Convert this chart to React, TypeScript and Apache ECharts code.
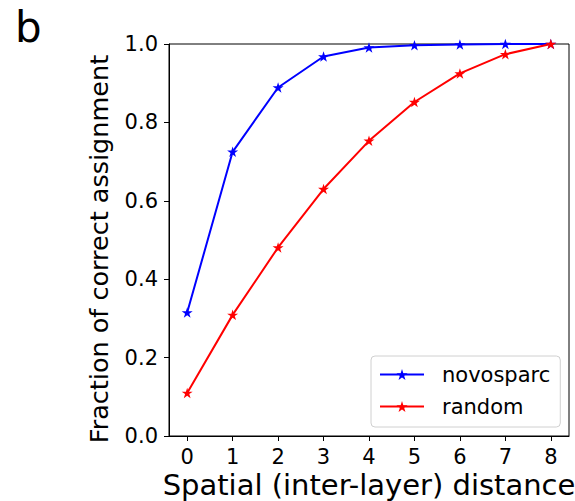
import React, { useEffect, useRef } from "react";
import * as echarts from "echarts";

const distances = [0, 1, 2, 3, 4, 5, 6, 7, 8];
const novosparcValues = [0.315, 0.725, 0.889, 0.968, 0.991, 0.997, 0.999, 1.0, 1.0];
const randomValues = [0.11, 0.309, 0.481, 0.63, 0.753, 0.852, 0.925, 0.974, 1.0];
const yTicks = [0, 0.2, 0.4, 0.6, 0.8, 1.0];

const STAR =
  "path://M0,-1L0.2245,-0.309L0.951,-0.309L0.363,0.118L0.588,0.809L0,0.382L-0.588,0.809L-0.363,0.118L-0.951,-0.309L-0.2245,-0.309Z";

const FONT = "DejaVu Sans";

export default function App() {
  const ref = useRef<HTMLDivElement>(null);
  useEffect(() => {
    if (!ref.current) return;
    const chart = echarts.init(ref.current, undefined, { renderer: "svg" });
    const mk = (vals: number[]) => distances.map((d, i) => [d, vals[i]]);
    chart.setOption({
      animation: false,
      backgroundColor: "#ffffff",
      title: {
        text: "b",
        left: 10,
        top: 1,
        textStyle: { fontFamily: FONT, fontSize: 42, fontWeight: "normal", color: "#000" },
      },
      graphic: [
        {
          type: "text",
          x: 99,
          y: 249,
          rotation: Math.PI / 2,
          style: {
            text: "Fraction of correct assignment",
            fontFamily: FONT,
            fontSize: 25.5,
            fill: "#000",
            align: "center",
            verticalAlign: "middle",
          },
        },
        {
          type: "text",
          x: 369,
          y: 485,
          style: {
            text: "Spatial (inter-layer) distance",
            fontFamily: FONT,
            fontSize: 29,
            lineHeight: 24,
            fill: "#000",
            align: "center",
            verticalAlign: "middle",
          },
        },
      ],
      grid: {
        left: 169,
        right: 6,
        top: 44,
        bottom: 65,
        show: true,
        borderColor: "#000",
        borderWidth: 1,
        backgroundColor: "transparent",
        containLabel: false,
        outerBoundsMode: "none",
      },
      legend: {
        orient: "vertical",
        left: 371,
        top: 356,
        padding: [8, 10, 10, 8],
        itemWidth: 44,
        itemHeight: 14,
        itemGap: 11,
        backgroundColor: "#fff",
        borderColor: "#d0d0d0",
        borderWidth: 1,
        borderRadius: 4,
        textStyle: { fontFamily: FONT, fontSize: 21, color: "#000", lineHeight: 20, padding: [0, 0, 0, 13] },
        data: ["novosparc", "random"],
      },
      xAxis: {
        type: "value",
        min: -0.4,
        max: 8.4,
        axisLine: { show: true, onZero: false, lineStyle: { color: "#000", width: 1 } },
        axisTick: { show: true, length: 5, lineStyle: { color: "#000", width: 1 }, customValues: distances },
        axisLabel: {
          margin: 12,
          fontFamily: FONT,
          fontSize: 21,
          lineHeight: 17,
          color: "#000",
          customValues: distances,
          formatter: (v: number) => String(v),
        },
        splitLine: { show: false },
      },
      yAxis: {
        type: "value",
        min: 0,
        max: 1,
        interval: 0.2,
        axisLine: { show: true, onZero: false, lineStyle: { color: "#000", width: 1 } },
        axisTick: { show: true, length: 5, lineStyle: { color: "#000", width: 1 } },
        axisLabel: {
          margin: 11,
          fontFamily: FONT,
          fontSize: 21,
          color: "#000",
          customValues: yTicks,
          formatter: (v: number) => v.toFixed(1),
        },
        splitLine: { show: false },
      },
      series: [
        {
          name: "novosparc",
          type: "line",
          data: mk(novosparcValues),
          symbol: STAR,
          symbolSize: [11, 10.5],
          showAllSymbol: true,
          lineStyle: { color: "#0000ff", width: 2 },
          itemStyle: { color: "#0000ff" },
          clip: true,
          z: 3,
        },
        {
          name: "random",
          type: "line",
          data: mk(randomValues),
          symbol: STAR,
          symbolSize: [11, 10.5],
          showAllSymbol: true,
          lineStyle: { color: "#ff0000", width: 2 },
          itemStyle: { color: "#ff0000" },
          clip: true,
          z: 3,
        },
      ],
    });
    return () => chart.dispose();
  }, []);
  return (
    <div
      ref={ref}
      style={{ position: "fixed", left: 0, top: 0, width: 575, height: 501, background: "#fff" }}
    />
  );
}
